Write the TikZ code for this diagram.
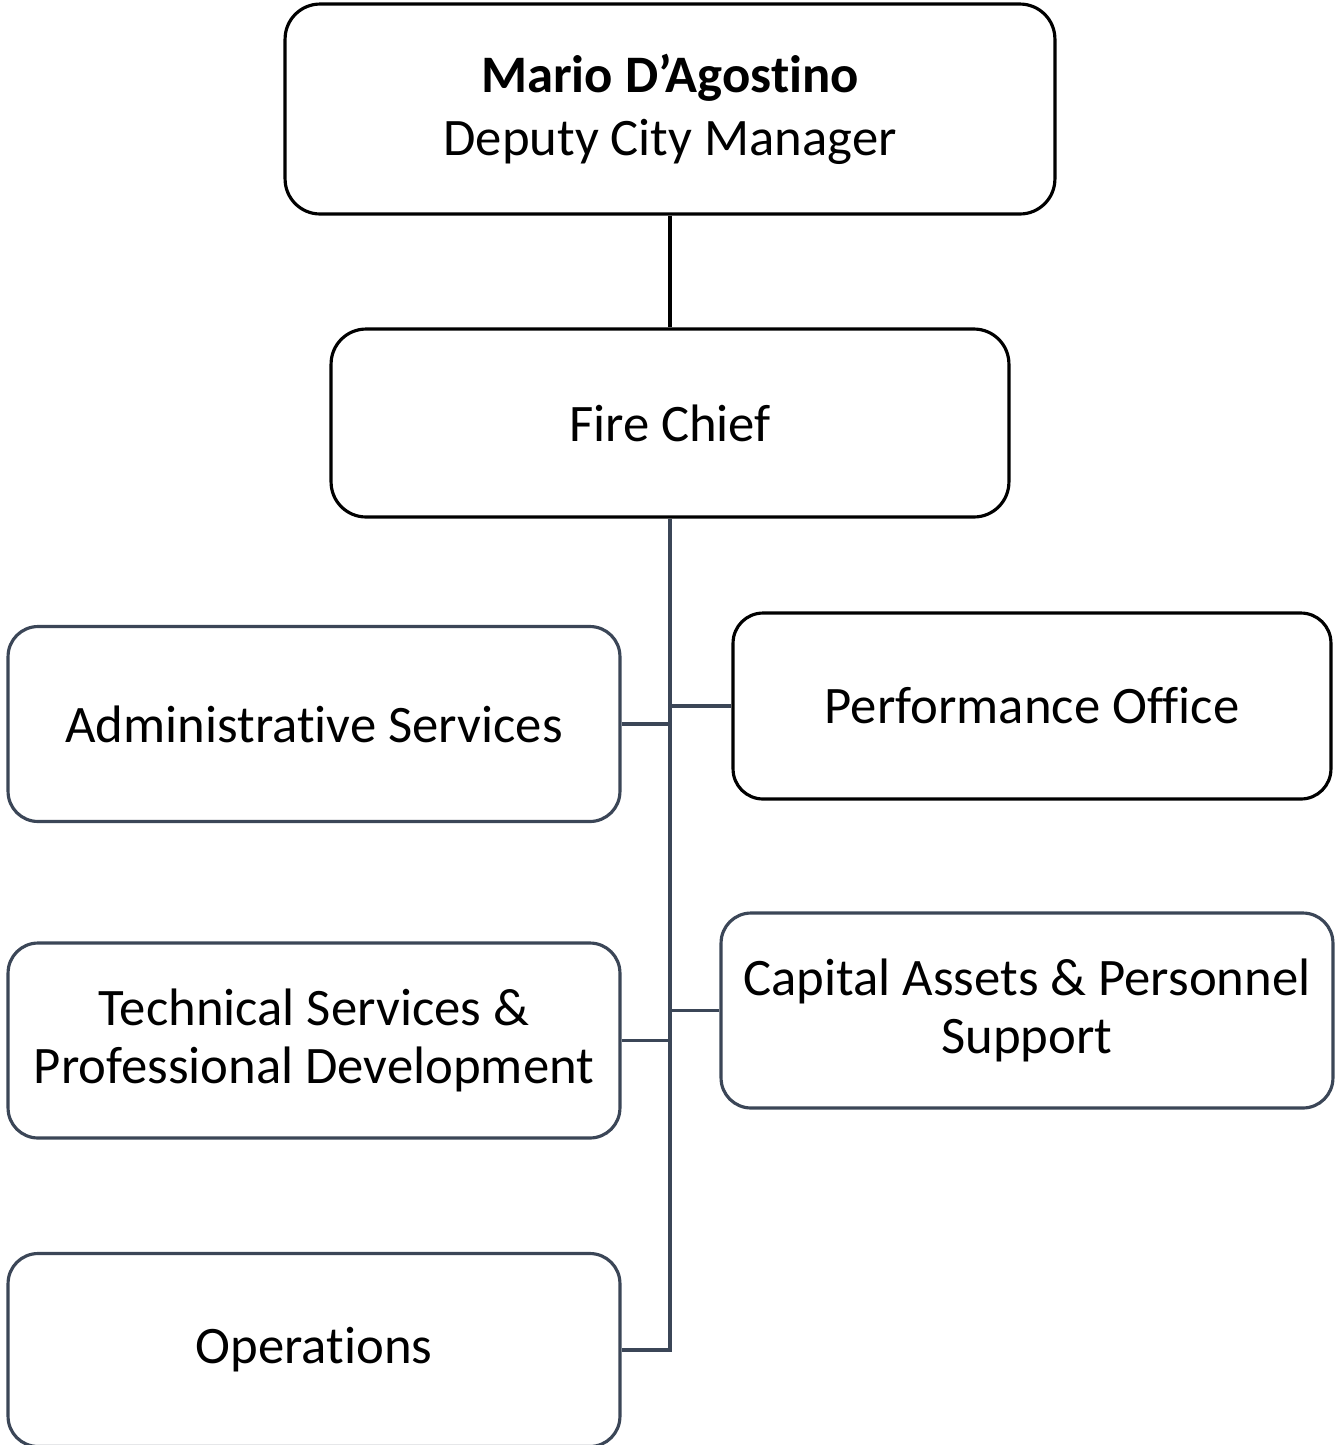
\documentclass[tikz,border=0pt]{standalone}
\usepackage{fontspec}
\setmainfont[Ligatures=NoCommon]{Carlito}
\usepackage{xcolor}
\definecolor{boxborder}{HTML}{000000}
\definecolor{unitborder}{HTML}{3B4657}
\definecolor{linkcolor}{HTML}{3B4657}
\usepackage{tikz}
\usetikzlibrary{positioning,calc}
\tikzset{
    headbox/.style={
        rectangle,
        draw=boxborder,
        fill=white,
        minimum height=4.2cm,
        minimum width=15.4cm,
        align=center,
        rounded corners=0.7cm,
        line width=1.8pt,
        font=\fontsize{30}{36}\selectfont,
    },
    unitbox/.style={
        rectangle,
        draw=unitborder,
        fill=white,
        minimum height=3.9cm,
        minimum width=12.24cm,
        align=center,
        rounded corners=0.6cm,
        line width=1.8pt,
        font=\fontsize{30}{33}\selectfont,
    },
    link/.style={
        line width=2pt,
        linkcolor,
    },
}

\begin{document}
\begin{tikzpicture}[x=0.02cm,y=-0.02cm]
    \useasboundingbox (0,0) rectangle (1336,1445);
    % top of the chart
    \node[headbox] (manager) at (670,109) {\textbf{Mario D’Agostino}\\Deputy City Manager};
    \node[headbox, minimum width=13.56cm, minimum height=3.76cm] (chief) at (670,423) {Fire Chief};
    % divisions
    \node[unitbox] (admin) at (314,724) {Administrative Services};
    \node[unitbox] (tech) at (314,1040.5) {Technical Services \&\\Professional Development};
    \node[unitbox, minimum height=3.86cm] (ops) at (314,1350) {Operations};
    \node[unitbox, draw=boxborder, minimum width=11.96cm, minimum height=3.72cm] (perf) at (1032,706) {Performance Office};
    \node[unitbox, minimum height=3.9cm] (capital) at (1027,1010.5) {Capital Assets \& Personnel\\Support};
    % connectors
    \draw[link, boxborder] (manager.south) -- (chief.north);
    \draw[link] (chief.south) |- (ops.east);
    \draw[link] (admin.east) -- (admin.east -| chief.south);
    \draw[link] (tech.east) -- (tech.east -| chief.south);
    \draw[link] (perf.west) -- (perf.west -| chief.south);
    \draw[link] (capital.west) -- (capital.west -| chief.south);
\end{tikzpicture}
\end{document}
